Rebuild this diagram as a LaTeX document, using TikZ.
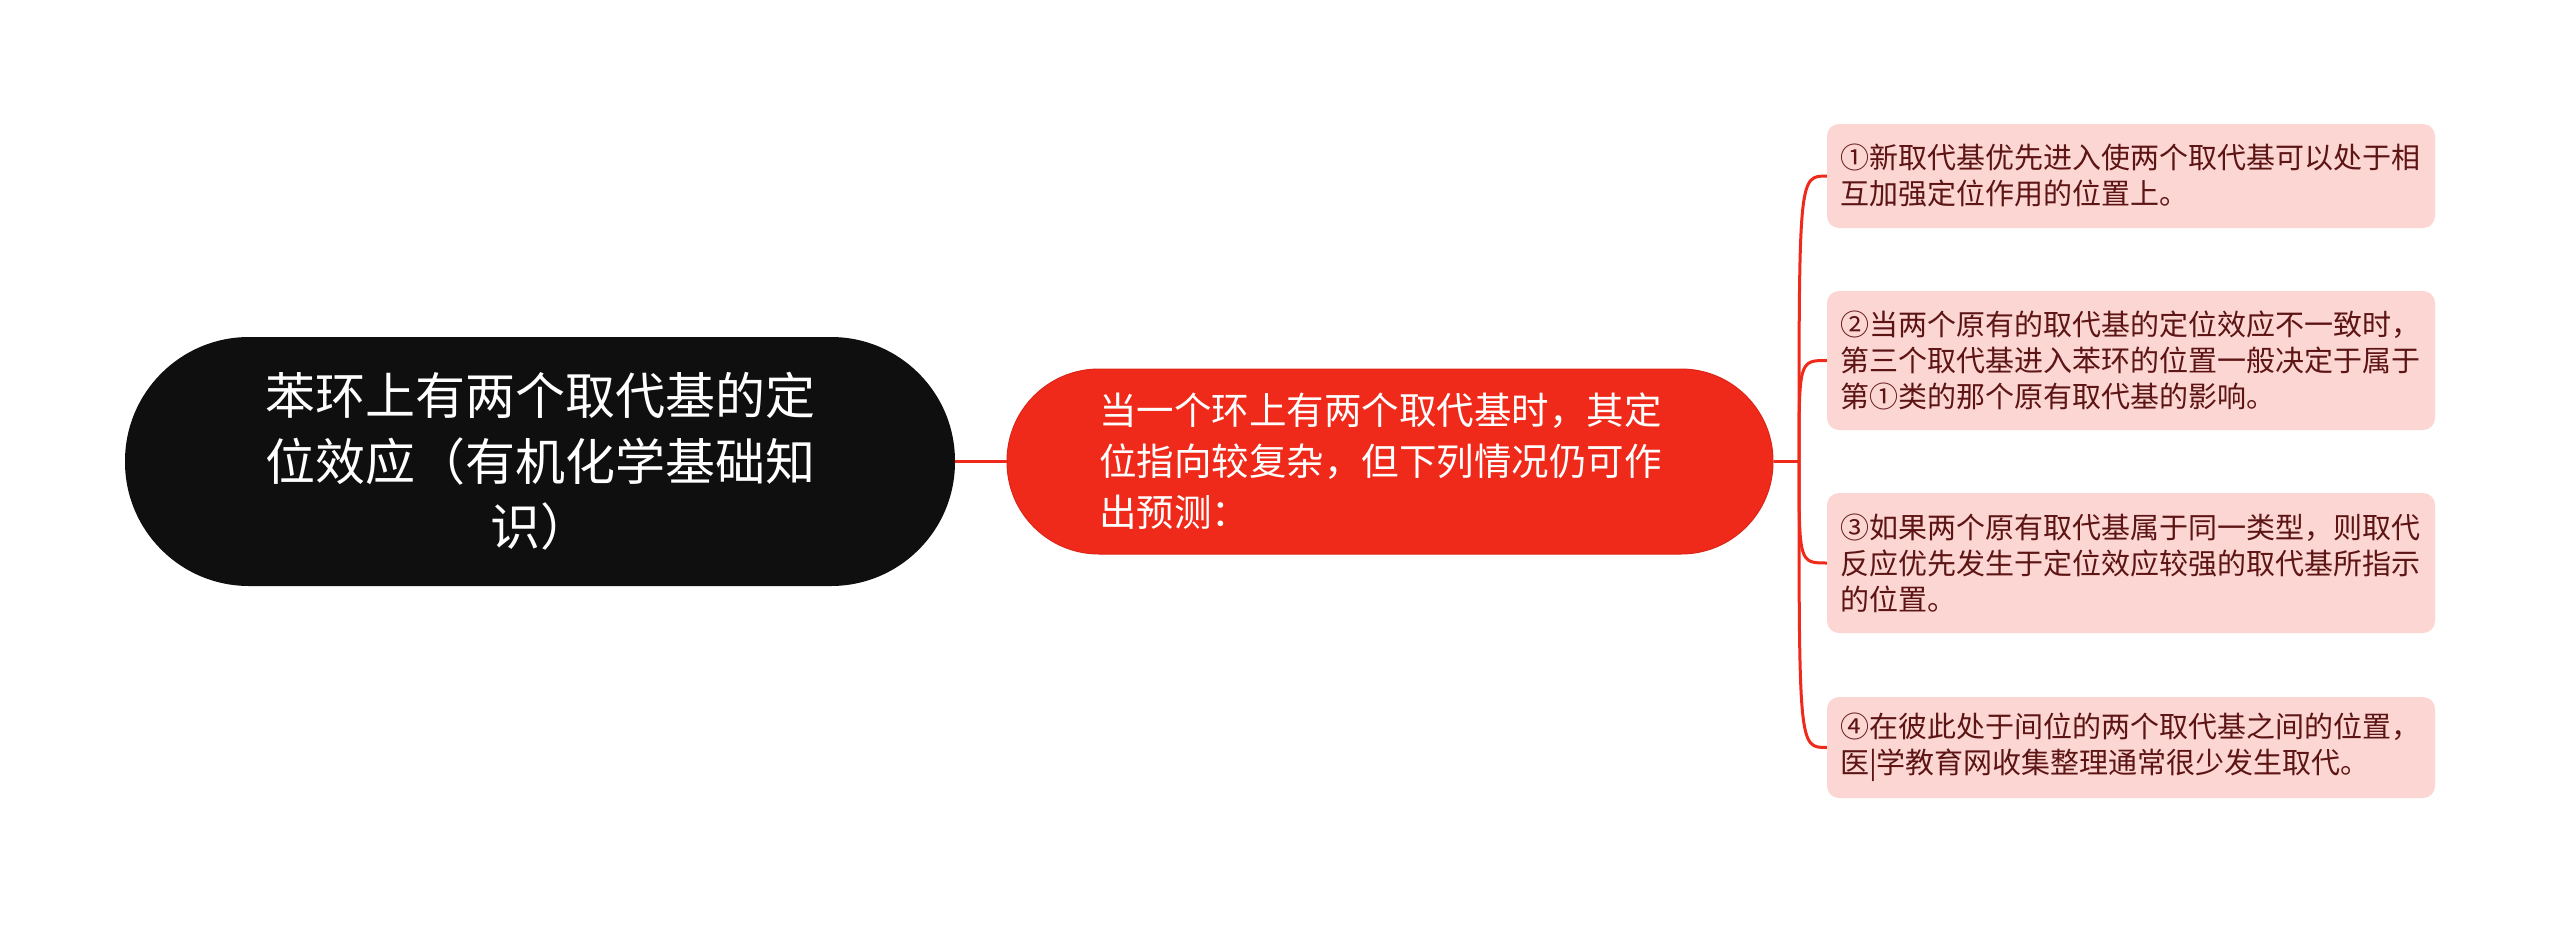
\documentclass[tikz,border=0pt]{standalone}
\usepackage{fontspec}
\newfontfamily\cjk{Noto Sans CJK SC}
\definecolor{mmred}{RGB}{240,42,26}
\definecolor{mmredline}{RGB}{222,36,22}
\definecolor{mmpink}{RGB}{252,214,211}
\definecolor{mmtext}{RGB}{92,20,20}
\definecolor{mmblack}{RGB}{15,15,15}
\begin{document}
\begin{tikzpicture}[x=1pt,y=-1pt,
  rootbox/.style={fill=mmblack, text=white, rounded corners=124pt,
    minimum width=830pt, minimum height=249pt, inner sep=0pt,
    align=center, font=\cjk\fontsize{50}{65.6}\selectfont},
  mainbox/.style={fill=mmred, draw=mmredline, line width=1pt, text=white, rounded corners=92pt,
    minimum width=766pt, minimum height=185pt, inner sep=0pt,
    text width=582pt, align=left, font=\cjk\fontsize{37.5}{51}\selectfont},
  leafbox/.style={fill=mmpink, text=mmtext, rounded corners=12pt,
    minimum width=608pt, inner sep=0pt,
    text width=582pt, align=left, font=\cjk\fontsize{29}{36}\selectfont},
  conn/.style={draw=mmred, line width=3pt}]
\useasboundingbox (0,0) rectangle (2560,924);
\fill[white] (0,0) rectangle (2560,924);

\node[rootbox] (root) at (540,461.5) {苯环上有两个取代基的定\\位效应（有机化学基础知\\识）};
\node[mainbox] (main) at (1390,461.5) {当一个环上有两个取代基时，其定\\位指向较复杂，但下列情况仍可作\\出预测：};

\node[leafbox, minimum height=104pt] (l1) at (2131,176) {①新取代基优先进入使两个取代基可以处于相\\互加强定位作用的位置上。};
\node[leafbox, minimum height=139pt] (l2) at (2131,360.5) {②当两个原有的取代基的定位效应不一致时，\\第三个取代基进入苯环的位置一般决定于属于\\第①类的那个原有取代基的影响。};
\node[leafbox, minimum height=140pt] (l3) at (2131,563) {③如果两个原有取代基属于同一类型，则取代\\反应优先发生于定位效应较强的取代基所指示\\的位置。};
\node[leafbox, minimum height=101pt] (l4) at (2131,747.5) {④在彼此处于间位的两个取代基之间的位置，\\医|学教育网收集整理通常很少发生取代。};

\coordinate (br) at (1799,461.5);
\draw[conn] (root.east) -- (main.west);
\draw[conn] (main.east) -- (br);
\foreach \b in {l1,l2,l3,l4}
  \draw[conn] (br) .. controls (br |- \b.west) .. (\b.west);
\end{tikzpicture}
\end{document}
